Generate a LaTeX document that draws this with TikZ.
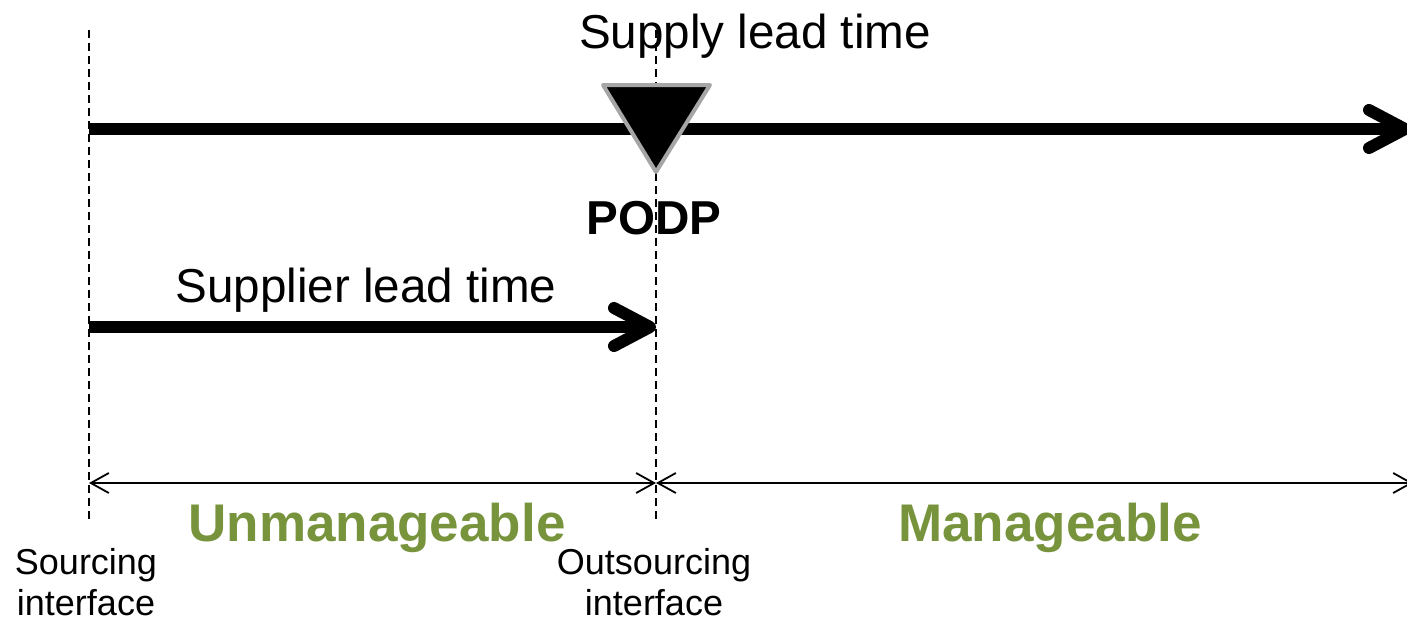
\documentclass[tikz,border=0pt]{standalone}
\usepackage{fontspec}
\setmainfont{Liberation Sans}
\usetikzlibrary{positioning,arrows.meta}
\definecolor{zonegreen}{HTML}{77933C}
\definecolor{markgray}{HTML}{A6A6A6}
\tikzset{lead/.style={line width=6pt,-{Straight Barb[length=18pt,width=19pt,round]}},
         dim/.style={line width=0.9pt,{Straight Barb[length=9pt,width=10pt]}-{Straight Barb[length=9pt,width=10pt]}},
         guide/.style={line width=1pt,dash pattern=on 4pt off 2.5pt},
         marker/.style={fill=black,draw=markgray,line width=2pt,line join=round},
         caption/.style={inner sep=0pt,font=\fontsize{23.8}{28}\selectfont},
         zone/.style={inner sep=0pt,text=zonegreen,font=\fontsize{26.5}{30}\selectfont\bfseries},
         iface/.style={inner sep=0pt,align=center,font=\fontsize{18}{20.5}\selectfont}
}

\begin{document}
\begin{tikzpicture}[x=0.5pt,y=-0.5pt]
\useasboundingbox (0,0) rectangle (1407,622);

% interfaces
\coordinate (srcTop) at (89,30);
\coordinate (srcBot) at (89,520);
\coordinate (outTop) at (656,30);
\coordinate (outBot) at (656,520);
\draw[guide] (srcTop)--(srcBot);
\draw[guide] (outTop)--(outBot);

% lead times
\coordinate (supplyStart) at (89,129);
\coordinate (supplyEnd) at (1411,129);
\coordinate (supplierStart) at (89,327);
\coordinate (supplierEnd) at (656,327);
\draw[lead] (supplyStart)--(supplyEnd);
\draw[lead] (supplierStart)--(supplierEnd);

% decoupling point
\draw[marker] (603,85)--(710,85)--(656,172)--cycle;

% zones
\coordinate (dimLeft) at (89,483);
\coordinate (dimMid) at (656,483);
\coordinate (dimRight) at (1413,483);
\draw[dim] (dimLeft)--(dimMid);
\draw[dim] (dimMid)--(dimRight);

\node[caption,anchor=base] (supplyLbl) at (755,48) {Supply lead time};
\node[caption,anchor=base] (podp) at (654,234) {\bfseries PODP};
\node[caption,anchor=base] (supplierLbl) at (366,302) {Supplier lead time};
\node[zone,anchor=base] (unman) at (377,541) {Unmanageable};
\node[zone,anchor=base] (man) at (1050,541) {Manageable};
\node[iface,anchor=base] (srcLbl) at (86,615) {Sourcing\\interface};
\node[iface,anchor=base] (outLbl) at (654,615) {Outsourcing\\interface};

\end{tikzpicture}
\end{document}
